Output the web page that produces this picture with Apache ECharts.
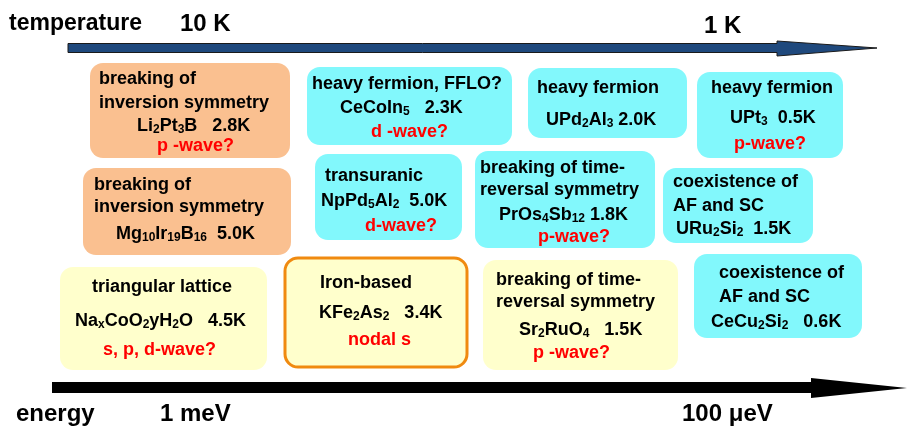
<!DOCTYPE html>
<html>
<head>
<meta charset="utf-8">
<script src="https://cdn.jsdelivr.net/npm/echarts@6/dist/echarts.min.js"></script>
<style>
  html, body { margin: 0; padding: 0; background: #fff; }
  #chart { width: 908px; height: 428px; }
</style>
</head>
<body>
<div id="chart"></div>
<script>
// superconductors: what is known about each one
const descriptions = [
  ['breaking of', 'inversion symmetry'],
  ['breaking of', 'inversion symmetry'],
  ['heavy fermion, FFLO?'],
  ['heavy fermion'],
  ['heavy fermion'],
  ['transuranic'],
  ['breaking of time-', 'reversal symmetry'],
  ['coexistence of', 'AF and SC'],
  ['triangular lattice'],
  ['Iron-based'],
  ['breaking of time-', 'reversal symmetry'],
  ['coexistence of', 'AF and SC']
];
const materials = ['Li2Pt3B', 'Mg10Ir19B16', 'CeCoIn5', 'UPd2Al3', 'UPt3', 'NpPd5Al2',
  'PrOs4Sb12', 'URu2Si2', 'Na_xCoO2yH2O', 'KFe2As2', 'Sr2RuO4', 'CeCu2Si2'];
const tcK = [2.8, 5.0, 2.3, 2.0, 0.5, 5.0, 1.8, 1.5, 4.5, 3.4, 1.5, 0.6];
const pairing = ['p -wave?', '', 'd -wave?', '', 'p-wave?', 'd-wave?', 'p-wave?', '',
  's, p, d-wave?', 'nodal s', 'p -wave?', ''];
const family = ['noncentro', 'noncentro', 'heavy', 'heavy', 'heavy', 'heavy', 'heavy', 'heavy',
  'other', 'iron', 'other', 'heavy'];

// axis tick labels
const tempTicks = ['10 K', '1 K'];
const energyTicks = ['1 meV', '100 μeV'];

// layout of the boxes (page pixels)
const boxRect = [
  [90, 63, 290, 158], [83, 168, 291, 255], [307, 67, 512, 145], [528, 68, 687, 138],
  [697, 72, 843, 158], [315, 154, 462, 240], [475, 151, 655, 248], [663, 168, 813, 243],
  [60, 267, 267, 370], [285, 258, 467, 367], [483, 260, 678, 370], [694, 254, 862, 338]
];
const lineX = [
  [99, 99, 137, 157], [94, 94, 116], [312, 340, 371], [537, 546], [711, 730, 734],
  [325, 321, 365], [480, 480, 499, 538], [673, 673, 676], [92, 75, 103], [320, 319, 348],
  [496, 496, 519, 533], [719, 719, 711]
];
const lineY = [
  [79, 103, 126, 146], [185, 207, 234], [84, 108, 132], [88, 120], [88, 118, 144],
  [176, 201, 226], [168, 190, 215, 237], [182, 206, 229], [287, 321, 350], [283, 313, 340],
  [280, 302, 330, 353], [273, 297, 322]
];
const tcGap = [3, 2, 3, 1, 2, 2, 1, 2, 3, 3, 3, 3];

const FONT = '"Liberation Sans", Arial, sans-serif';
const boxFill = { noncentro: '#fac090', heavy: '#82f8fc', other: '#ffffcc', iron: '#ffffcc' };

function formula(s) {
  return s.replace(/_(\w)/g, '{s|$1}').replace(/(\d+)/g, '{s|$1}');
}

function boxLines(i) {
  const lines = descriptions[i].map(t => ({ text: t, color: '#000' }));
  lines.push({ text: formula(materials[i]) + ' '.repeat(tcGap[i]) + tcK[i].toFixed(1) + 'K', color: '#000' });
  if (pairing[i]) lines.push({ text: pairing[i], color: '#ff0000' });
  return lines;
}

const chart = echarts.init(document.getElementById('chart'));

function renderBox(params, api) {
  const i = params.dataIndex;
  const r = boxRect[i];
  const p0 = api.coord([r[0], r[1]]);
  const p1 = api.coord([r[2], r[3]]);
  const children = [{
    type: 'rect',
    shape: { x: p0[0], y: p0[1], width: p1[0] - p0[0], height: p1[1] - p0[1], r: 13 },
    style: {
      fill: boxFill[family[i]],
      stroke: family[i] === 'iron' ? '#f08a10' : null,
      lineWidth: family[i] === 'iron' ? 3 : 0
    }
  }];
  boxLines(i).forEach((ln, k) => {
    const p = api.coord([lineX[i][k], lineY[i][k]]);
    children.push({
      type: 'text',
      x: p[0], y: p[1],
      style: {
        text: ln.text,
        fill: ln.color,
        fontSize: 18, fontWeight: 'bold', fontFamily: FONT,
        lineHeight: 20,
        align: 'left', verticalAlign: 'middle',
        rich: {
          s: { fontSize: 12, fontWeight: 'bold', fontFamily: FONT, fill: ln.color,
               lineHeight: 8, verticalAlign: 'bottom' }
        }
      }
    });
  });
  return { type: 'group', children };
}

function label(text, x, y, size) {
  return {
    type: 'text', x, y,
    style: { text, fill: '#000', fontSize: size, fontWeight: 'bold', fontFamily: FONT,
             align: 'left', verticalAlign: 'middle' }
  };
}

chart.setOption({
  animation: false,
  grid: { left: 0, right: 0, top: 0, bottom: 0 },
  xAxis: { type: 'value', min: 0, max: 908, show: false },
  yAxis: { type: 'value', min: 0, max: 428, inverse: true, show: false },
  graphic: [
    {
      type: 'polygon',
      shape: { points: [[68, 43.5], [777, 43.5], [777, 41], [877, 48], [777, 56], [777, 52.5], [68, 52.5]] },
      style: { fill: '#1f497d', stroke: '#1a1a1a', lineWidth: 1 }
    },
    {
      type: 'polygon',
      shape: { points: [[52, 382], [811, 382], [811, 378], [907, 388], [811, 398], [811, 393], [52, 393]] },
      style: { fill: '#000' }
    },
    label('temperature', 9, 24, 23),
    label(tempTicks[0], 180, 24, 24),
    label(tempTicks[1], 704, 26, 24),
    label('energy', 16, 414, 24),
    label(energyTicks[0], 160, 414, 24),
    label(energyTicks[1], 682, 414, 24)
  ],
  series: [{
    type: 'custom',
    coordinateSystem: 'cartesian2d',
    renderItem: renderBox,
    data: boxRect.map((r, i) => [r[0], r[1], i]),
    encode: { x: 0, y: 1 },
    silent: true
  }]
});
</script>
</body>
</html>
